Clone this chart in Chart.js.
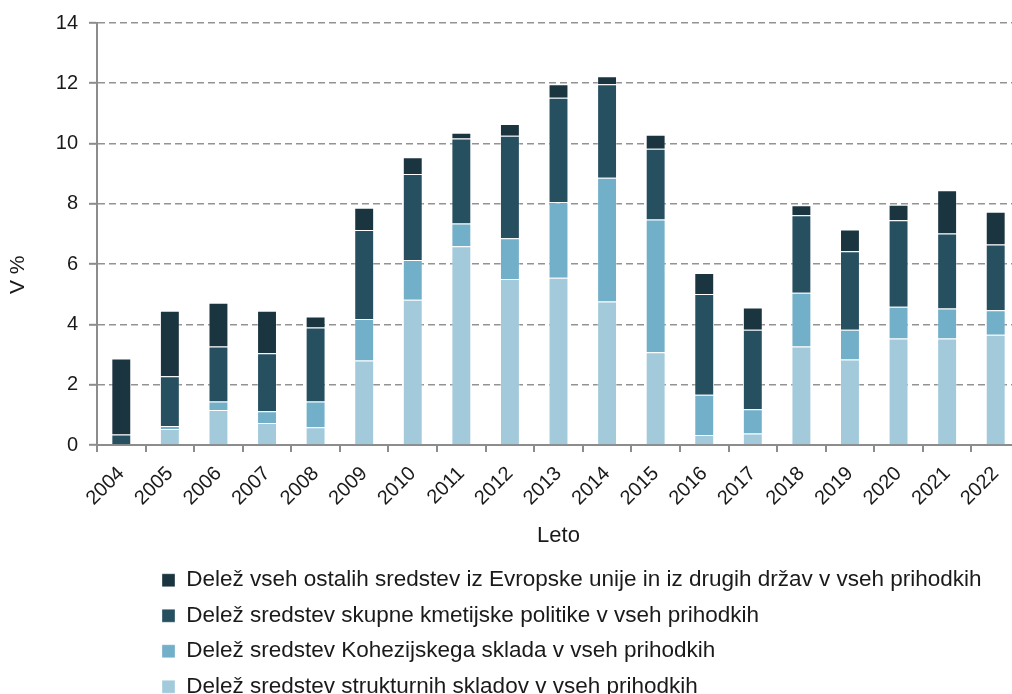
<!DOCTYPE html>
<html>
<head>
<meta charset="utf-8">
<script src="https://cdn.jsdelivr.net/npm/chart.js@4.4.0/dist/chart.umd.min.js"></script>
<style>
  html, body { margin: 0; padding: 0; background: #fff; overflow: hidden; }
  #wrap { width: 1024px; height: 708px; }
</style>
</head>
<body>
<div id="wrap"><canvas id="chart" width="1024" height="708"></canvas></div>
<script>
// Deleži sredstev EU v vseh prihodkih (v %), 2004-2022
const years = ['2004', '2005', '2006', '2007', '2008', '2009', '2010', '2011', '2012', '2013',
               '2014', '2015', '2016', '2017', '2018', '2019', '2020', '2021', '2022'];
const strukturni = [0, 0.53, 1.16, 0.73, 0.59, 2.80, 4.82, 6.59, 5.51, 5.55, 4.76, 3.08, 0.33, 0.38, 3.27, 2.84, 3.53, 3.53, 3.66];
const kohezijski = [0, 0.10, 0.28, 0.39, 0.85, 1.38, 1.32, 0.76, 1.35, 2.50, 4.11, 4.40, 1.34, 0.81, 1.78, 0.98, 1.06, 1.00, 0.81];
const kmetijska = [0.35, 1.65, 1.83, 1.92, 2.46, 2.95, 2.85, 2.82, 3.40, 3.47, 3.10, 2.35, 3.34, 2.63, 2.57, 2.61, 2.87, 2.49, 2.18];
const ostala = [2.52, 2.17, 1.45, 1.41, 0.36, 0.74, 0.56, 0.19, 0.39, 0.45, 0.26, 0.46, 0.70, 0.74, 0.33, 0.72, 0.51, 1.43, 1.09];

const FONT = "'Liberation Sans', Arial, Helvetica, sans-serif";
const TXT = '#1a1a1a';
const AXIS = '#8c8c8c';

function series(label, data, color) {
    return {
        label: label,
        data: data,
        backgroundColor: color,
        borderColor: 'rgba(255,255,255,0.35)',
        borderWidth: 1,
        categoryPercentage: 1,
        barPercentage: 0.41
    };
}

// shift the bottom legend so its rows start under the plot like in the original
const legendShift = {
    id: 'legendShift',
    afterLayout(chart) {
        chart.legend.left = 149;
    }
};

new Chart(document.getElementById('chart'), {
    type: 'bar',
    data: {
        labels: years,
        datasets: [
            series('Delež sredstev strukturnih skladov v vseh prihodkih', strukturni, '#a2cadb'),
            series('Delež sredstev Kohezijskega sklada v vseh prihodkih', kohezijski, '#72afc8'),
            series('Delež sredstev skupne kmetijske politike v vseh prihodkih', kmetijska, '#264f60'),
            series('Delež vseh ostalih sredstev iz Evropske unije in iz drugih držav v vseh prihodkih', ostala, '#1b3540')
        ]
    },
    options: {
        responsive: false,
        animation: false,
        layout: { padding: { top: 21, right: 4, left: 0, bottom: 0 } },
        plugins: {
            tooltip: { enabled: false },
            legend: {
                position: 'bottom',
                align: 'start',
                reverse: true,
                labels: {
                    boxWidth: 13,
                    boxHeight: 13,
                    padding: 13,
                    color: TXT,
                    font: { family: FONT, size: 22.5 }
                }
            }
        },
        scales: {
            x: {
                stacked: true,
                afterFit(scale) { scale.height = 111; },
                grid: {
                    offset: true,
                    drawOnChartArea: false,
                    drawTicks: true,
                    tickLength: 7,
                    color: AXIS,
                    lineWidth: 2
                },
                border: { color: AXIS, width: 2 },
                ticks: {
                    color: TXT,
                    font: { family: FONT, size: 20 },
                    maxRotation: 45,
                    minRotation: 45,
                    padding: 10,
                    autoSkip: false
                },
                title: {
                    display: true,
                    text: 'Leto',
                    color: TXT,
                    font: { family: FONT, size: 22 },
                    padding: { top: 4, bottom: 7 }
                }
            },
            y: {
                stacked: true,
                min: 0,
                max: 14,
                afterFit(scale) { scale.width = 97; },
                grid: {
                    color: '#939393',
                    lineWidth: 1.6,
                    tickBorderDash: [],
                    tickColor: AXIS,
                    tickLength: 8,
                    tickWidth: 2
                },
                border: { color: AXIS, width: 2, dash: [7, 4] },
                ticks: {
                    stepSize: 2,
                    color: TXT,
                    font: { family: FONT, size: 20 },
                    padding: 11
                },
                title: {
                    display: true,
                    // trailing spaces push the title a little below the axis middle, as in the original
                    text: 'V %              ',
                    color: TXT,
                    font: { family: FONT, size: 21 },
                    padding: { top: 6, bottom: 4 }
                }
            }
        }
    },
    plugins: [legendShift]
});
</script>
</body>
</html>
